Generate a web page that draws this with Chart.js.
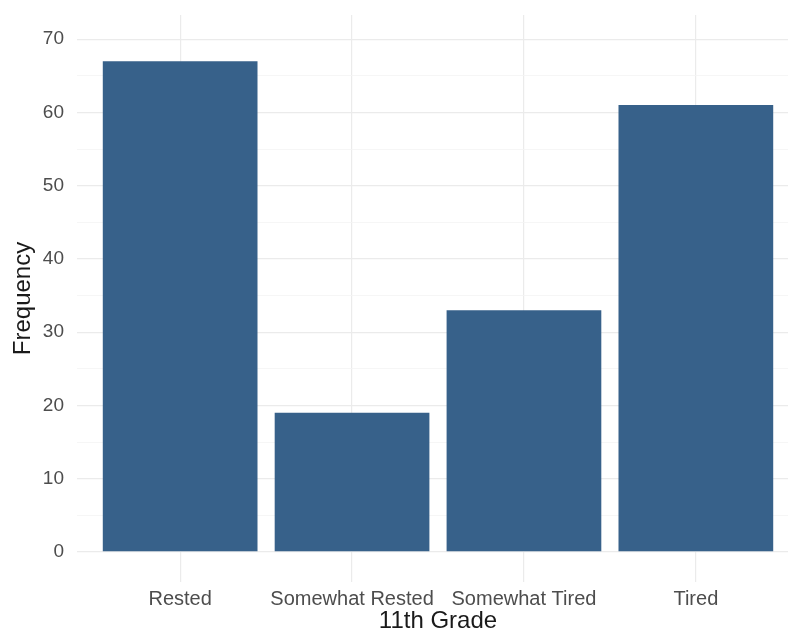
<!DOCTYPE html>
<html>
<head>
<meta charset="utf-8">
<script src="https://cdn.jsdelivr.net/npm/chart.js@4"></script>
<style>
  html, body { margin: 0; padding: 0; background: #ffffff; overflow: hidden; }
  #wrap { width: 800px; height: 633px; }
</style>
</head>
<body>
<div id="wrap"><canvas id="sleepChart" width="800" height="633"></canvas></div>
<script>
const categories = ["Rested", "Somewhat Rested", "Somewhat Tired", "Tired"];
const frequency = [67, 19, 33, 61];
const yTicks = [0, 5, 10, 15, 20, 25, 30, 35, 40, 45, 50, 55, 60, 65, 70];

const barColor = "#37618a";
const tickColor = "#4d4d4d";
const fontFamily = "'Liberation Sans', Arial, sans-serif";

function noEdgePadding(scale) {
    scale.paddingTop = 0;
    scale.paddingBottom = 0;
    scale.paddingLeft = 0;
    scale.paddingRight = 0;
}

const ctx = document.getElementById("sleepChart").getContext("2d");

const sleepChart = new Chart(ctx, {
    type: "bar",
    data: {
        datasets: [{
            label: "Frequency",
            data: frequency.map((v, i) => ({ x: i, y: v })),
            backgroundColor: barColor,
            borderWidth: 0,
            categoryPercentage: 0.9,
            barPercentage: 1.0
        }]
    },
    options: {
        responsive: false,
        animation: false,
        layout: { padding: { top: 15, right: 1, left: 0, bottom: 0 } },
        plugins: {
            legend: { display: false },
            tooltip: { enabled: false }
        },
        scales: {
            x: {
                type: "linear",
                offset: false,
                min: -0.6,
                max: 3.6,
                afterBuildTicks: function (scale) {
                    scale.ticks = categories.map((c, i) => ({ value: i }));
                },
                afterFit: function (scale) {
                    scale.height = 51;
                    noEdgePadding(scale);
                },
                grid: { color: "#ebebeb", lineWidth: 1.2, drawTicks: false, offset: false },
                border: { display: false },
                ticks: {
                    color: tickColor,
                    padding: 5,
                    font: { family: fontFamily, size: 20 },
                    maxRotation: 0,
                    autoSkip: false,
                    callback: function (value) { return categories[value]; }
                },
                title: {
                    display: true,
                    text: "11th Grade",
                    color: "#1a1a1a",
                    font: { family: fontFamily, size: 24, lineHeight: 1 },
                    padding: { top: 0, bottom: 0 }
                }
            },
            y: {
                min: -4.1,
                max: 73.3,
                afterBuildTicks: function (scale) {
                    scale.ticks = yTicks.map(v => ({ value: v }));
                },
                afterFit: function (scale) {
                    scale.width = 77;
                    noEdgePadding(scale);
                },
                grid: {
                    drawTicks: false,
                    color: function (c) {
                        return c.tick && c.tick.value % 10 === 0 ? "#ebebeb" : "#f4f4f4";
                    },
                    lineWidth: function (c) {
                        return c.tick && c.tick.value % 10 === 0 ? 1.2 : 0.8;
                    }
                },
                border: { display: false },
                ticks: {
                    color: tickColor,
                    padding: 13,
                    font: { family: fontFamily, size: 19 },
                    callback: function (value) { return value % 10 === 0 ? value : ""; }
                },
                title: {
                    display: true,
                    text: "Frequency",
                    color: "#1a1a1a",
                    font: { family: fontFamily, size: 24, lineHeight: 1 },
                    padding: { top: 11, bottom: 0 }
                }
            }
        }
    }
});
</script>
</body>
</html>
